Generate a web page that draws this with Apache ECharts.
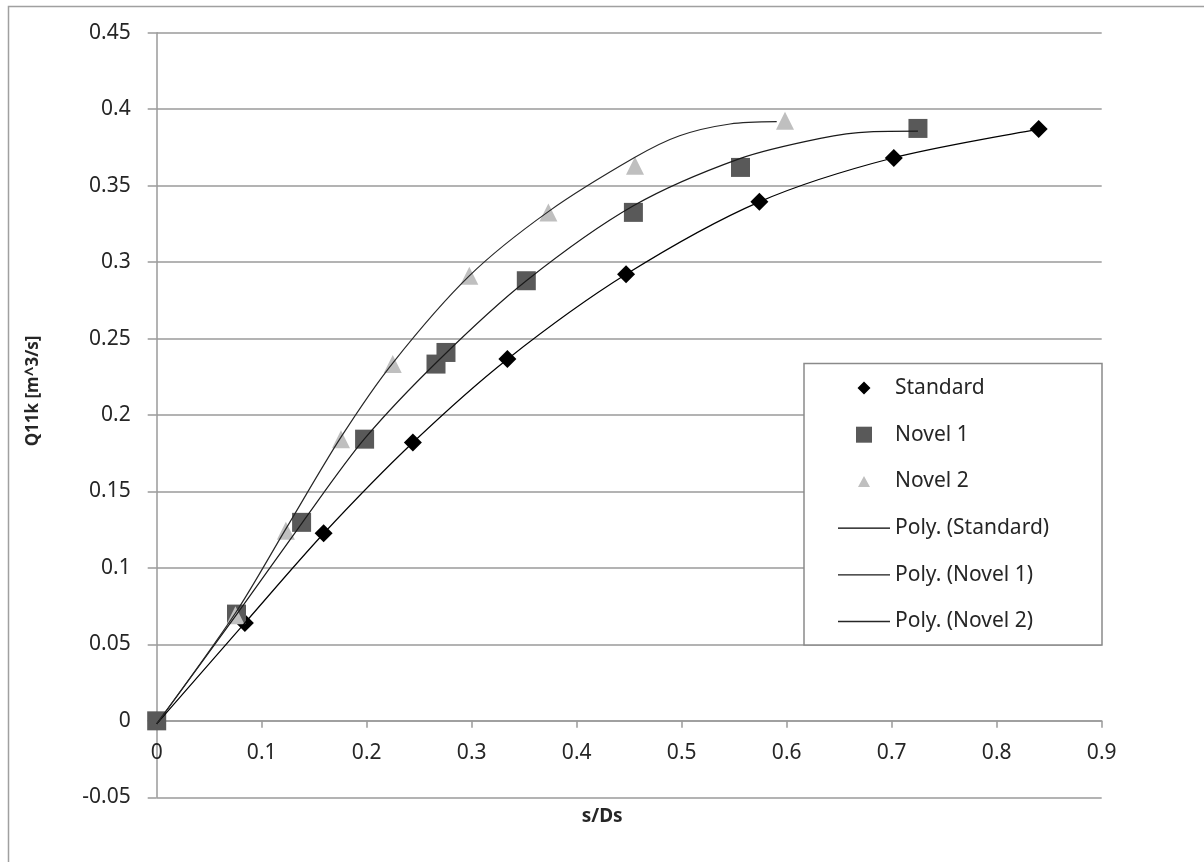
<!DOCTYPE html>
<html>
<head>
<meta charset="utf-8">
<script src="https://cdn.jsdelivr.net/npm/echarts@6/dist/echarts.min.js"></script>
<style>
html,body{margin:0;padding:0;background:#fff;}
#chart{width:1204px;height:862px;}
</style>
</head>
<body>
<div id="chart"></div>
<script>
// ---- data ----
const seriesNames = ['Standard', 'Novel 1', 'Novel 2', 'Poly. (Standard)', 'Poly. (Novel 1)', 'Poly. (Novel 2)'];

const standardX = [0, 0.084, 0.159, 0.244, 0.334, 0.447, 0.574, 0.702, 0.840];
const standardY = [0, 0.064, 0.1226, 0.182, 0.2366, 0.292, 0.3394, 0.368, 0.387];

const novel1X = [0, 0.076, 0.138, 0.198, 0.266, 0.2755, 0.352, 0.454, 0.556, 0.725];
const novel1Y = [0, 0.0698, 0.1298, 0.1842, 0.2333, 0.2409, 0.2878, 0.3325, 0.3619, 0.3874];

const novel2X = [0.075, 0.123, 0.1755, 0.2248, 0.2977, 0.373, 0.4555, 0.5984];
const novel2Y = [0.0691, 0.1243, 0.1842, 0.2333, 0.291, 0.3325, 0.363, 0.3924];

// trendline curves
const trendStdX = [0, 0.084, 0.159, 0.244, 0.334, 0.447, 0.574, 0.702, 0.840];
const trendStdY = [-0.002, 0.064, 0.1225, 0.182, 0.2365, 0.292, 0.3394, 0.3682, 0.3868];

const trendN1X = [0, 0.076, 0.138, 0.198, 0.27, 0.352, 0.454, 0.556, 0.632, 0.679, 0.725];
const trendN1Y = [-0.002, 0.0695, 0.129, 0.1845, 0.2368, 0.2878, 0.3368, 0.3678, 0.3809, 0.3852, 0.3856];

const trendN2X = [0, 0.075, 0.123, 0.1755, 0.2248, 0.2977, 0.373, 0.4555, 0.498, 0.546, 0.5905];
const trendN2Y = [-0.002, 0.0705, 0.1255, 0.1855, 0.234, 0.291, 0.333, 0.3685, 0.3826, 0.3903, 0.3918];

const xTicks = {min: 0, max: 0.9, interval: 0.1};
const yTicks = {min: -0.05, max: 0.45, interval: 0.05};

function pairs(xs, ys) { return xs.map((x, i) => [x, ys[i]]); }

const FONT = 'Noto Sans';
const chart = echarts.init(document.getElementById('chart'), null, {renderer: 'canvas'});

const gridL = 156.7, gridR = 1101.7, gridT = 32.7, gridB = 797.3;
const zeroOffset = -(gridB - gridT) * (0 - yTicks.min) / (yTicks.max - yTicks.min);

const lineIcon = 'path://M0,0H52V1.3H0Z';
const diamondIcon = 'path://M0,0L0.01,0L0,0.01ZM16,16L15.99,16L16,15.99ZM8,1.5L14.5,8L8,14.5L1.5,8Z';
const squareIcon = 'path://M0.5,0.5H15.5V15.5H0.5Z';
const triangleIcon = 'path://M0,0L0.01,0L0,0.01ZM16,16L15.99,16L16,15.99ZM8,2.5L14,13.5L2,13.5Z';

chart.setOption({
  animation: false,
  backgroundColor: '#fff',
  textStyle: {fontFamily: FONT},
  grid: {left: gridL, top: gridT, width: gridR - gridL, height: gridB - gridT,
         containLabel: false, outerBoundsMode: 'none'},
  graphic: [
    {type: 'rect', left: 6, top: 4, z: -10, shape: {x: 0, y: 0, width: 1210, height: 870},
     style: {fill: 'none', stroke: '#a0a0a0', lineWidth: 1.5}},
    {type: 'rect', z: 3, shape: {x: 804, y: 363.5, width: 298, height: 281.5},
     style: {fill: '#fff', stroke: '#8a8a8a', lineWidth: 1.5}}
  ],
  xAxis: {
    type: 'value', min: xTicks.min, max: xTicks.max, interval: xTicks.interval,
    offset: zeroOffset,
    name: 's/Ds', nameLocation: 'middle', nameGap: 86,
    nameTextStyle: {fontFamily: FONT, fontWeight: 'bold', fontSize: 19, color: '#262626', padding: [0, 54, 0, 0]},
    axisLine: {show: true, onZero: false, lineStyle: {color: '#9a9a9a', width: 1.5}},
    axisTick: {show: true, length: 7, lineStyle: {color: '#9a9a9a', width: 1.5}},
    axisLabel: {fontFamily: FONT, fontSize: 21, color: '#262626', margin: 22,
      formatter: v => String(+v.toFixed(2))},
    splitLine: {show: false}
  },
  yAxis: {
    type: 'value', min: yTicks.min, max: yTicks.max, interval: yTicks.interval,
    name: 'Q11k [m^3/s]', nameLocation: 'middle', nameGap: 115, nameRotate: 90,
    nameTextStyle: {fontFamily: FONT, fontWeight: 'bold', fontSize: 17, color: '#262626', padding: [0, 0, 0, 48]},
    axisLine: {show: true, lineStyle: {color: '#9a9a9a', width: 1.5}},
    axisTick: {show: true, length: 9, lineStyle: {color: '#9a9a9a', width: 1.5}},
    axisLabel: {fontFamily: FONT, fontSize: 21, color: '#262626', margin: 26,
      formatter: v => String(+v.toFixed(2))},
    splitLine: {show: true, lineStyle: {color: '#9a9a9a', width: 1.5}}
  },
  legend: {
    orient: 'vertical', left: 838, top: 375, padding: 0, z: 10,
    itemWidth: 52, itemHeight: 16, itemGap: 20.7, selectedMode: false, symbolKeepAspect: true,
    textStyle: {fontFamily: FONT, fontSize: 21, color: '#262626', lineHeight: 26},
    data: [
      {name: seriesNames[0], icon: diamondIcon},
      {name: seriesNames[1], icon: squareIcon},
      {name: seriesNames[2], icon: triangleIcon},
      {name: seriesNames[3], icon: lineIcon},
      {name: seriesNames[4], icon: lineIcon},
      {name: seriesNames[5], icon: lineIcon}
    ]
  },
  series: [
    {name: seriesNames[0], type: 'scatter', symbol: 'diamond', symbolSize: 18,
     itemStyle: {color: '#000', opacity: 1}, data: pairs(standardX, standardY), z: 2},
    {name: seriesNames[1], type: 'scatter', symbol: 'rect', symbolSize: 19,
     itemStyle: {color: '#595959', opacity: 1}, data: pairs(novel1X, novel1Y), z: 2},
    {name: seriesNames[2], type: 'scatter', symbol: 'triangle', symbolSize: 18,
     itemStyle: {color: '#bfbfbf', opacity: 1}, data: pairs(novel2X, novel2Y), z: 2},
    {name: seriesNames[3], type: 'line', smooth: 0.3, symbol: 'none', showSymbol: false,
     lineStyle: {color: '#000', width: 1.2}, itemStyle: {color: '#000'}, data: pairs(trendStdX, trendStdY), z: 3},
    {name: seriesNames[4], type: 'line', smooth: 0.3, symbol: 'none', showSymbol: false,
     lineStyle: {color: '#1a1a1a', width: 1.2}, itemStyle: {color: '#1a1a1a'}, data: pairs(trendN1X, trendN1Y), z: 3},
    {name: seriesNames[5], type: 'line', smooth: 0.3, symbol: 'none', showSymbol: false,
     lineStyle: {color: '#262626', width: 1.2}, itemStyle: {color: '#262626'}, data: pairs(trendN2X, trendN2Y), z: 3}
  ]
});
</script>
</body>
</html>
